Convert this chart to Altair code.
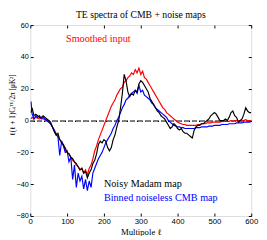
import altair as alt
import pandas as pd

# Multipole grid
ell = [2] + list(range(5, 601, 5))

# Smoothed input (red)
red = [1,
       2, 1, 2, 1.5, 1, 1.5, 1, 0.5, 0, -1,
       -2, -4, -6, -8, -10, -12, -13, -16, -17, -20,
       -21, -23, -25, -26, -28, -29, -31, -30, -33, -31,
       -34, -30, -28, -24, -19, -16, -12, -9, -6, -3,
       0, 3, 6, 9, 11, 13, 16, 18, 20, 21,
       24, 25, 27, 28, 30, 29, 32, 30, 33, 29,
       31, 27, 26, 24, 22, 20, 18, 16, 14, 12,
       10, 8, 7, 5, 4, 3, 2, 1, 0, -1,
       -1.5, -2, -2.5, -2.5, -3, -3, -3, -3, -3, -3,
       -2.5, -2.5, -2, -2, -2, -1.5, -1.5, -1.5, -1, -1,
       -1, -1, -1, -0.5, -0.5, -0.5, -0.5, -0.5, 0, -0.5,
       0, 0, -0.5, 0, 0, 0, 0.5, 0, 0, 0]

# Binned noiseless CMB map (blue)
blue = [12,
        4, 1, 3, 2, 3, 1, 2, 1, 0, -1,
        -2, -4, -6, -9, -10, -22, -13, -16, -20, -19,
        -26, -23, -37, -28, -42, -33, -38, -35, -43, -37,
        -44, -38, -42, -33, -30, -27, -24, -22, -20, -17,
        -14, -12, -10, -8, -5, -3, 0, 2, 5, 8,
        10, 13, 14, 16, 17, 18, 19, 17, 22, 18,
        19, 16, 15, 14, 13, 11, 10, 8, 7, 6,
        5, 4, 3, 2, 0, -1, -2, -3, -3.5, -4,
        -4, -4.5, -4.5, -5, -5, -5, -5, -5, -5, -4.5,
        -4.5, -4.5, -4, -4, -4, -4, -3.5, -3.5, -3.5, -3,
        -3, -3, -3, -2.5, -2.5, -2.5, -2.5, -2, -2, -2,
        -2, -1.5, -1.5, -1.5, -1.5, -1, -1, -1, -1, -0.5]

# Noisy Madam map (black)
black = [5,
         8, 3, 4, 3, 2, 2, 3, 2, 1, 0,
         -1, -4, -7, -9, -8, -12, -14, -15, -18, -20,
         -21, -23, -24, -26, -27, -29, -31, -30, -33, -32,
         -36, -33, -31, -27, -25, -21, -15, -13, -14, -12,
         -13, -17, -19, -17, -12, -9, -4, 0, 8, 17,
         29, 25, 18, 15, 17, 16, 19, 18, 23, 25,
         24, 22, 20, 18, 14, 12, 10, 8, 6, 5,
         3, 2, 1, -1, -3, -5, -4, -2, -3, -5,
         -6, -5, -7, -8, -8, -9, -10, -11, -6, -4,
         -3, -3, -2, -2, -1, 0, 1, 3, 4, 5,
         4, 2, 0, 0, 0, 1, 0, 2, 5, 6,
         3, 2, -1, 0, 1, 4, 8, 6, 5, 5]

series_names = ["Smoothed input", "Binned noiseless CMB map", "Noisy Madam map"]
series_colors = ["#ff0000", "#0000ff", "#000000"]

x_ticks = [0, 100, 200, 300, 400, 500, 600]
y_ticks = [-60, -40, -20, 0, 20, 40, 60]
y_tick_labels = ["\u221280", "\u221240", "\u221220", "0", "20", "40", "60"]

df = pd.DataFrame({"ell": ell * 3,
                   "cl": red + blue + black,
                   "series": sum([[n] * len(ell) for n in series_names], [])})

label_expr = "''"
for v, lab in zip(y_ticks, y_tick_labels):
    label_expr = f"datum.value == {v} ? '{lab}' : ({label_expr})"

xscale = alt.Scale(domain=[0, 600], nice=False, zero=False)
yscale = alt.Scale(domain=[-60, 60], nice=False, zero=False)

tick_font = "Liberation Sans"
serif = "Liberation Serif"

x_bottom = alt.Axis(orient="bottom", values=x_ticks, format="d", tickSize=3, offset=-3,
                    domain=False, grid=False, labelPadding=2, labelFont=tick_font,
                    labelFontSize=8, labelColor="black", tickColor="black", labelFlush=False,
                    title="Multipole \u2113", titleFont=serif, titleFontSize=9,
                    titleFontWeight="normal", titleColor="black", titlePadding=2)
y_left = alt.Axis(orient="left", values=y_ticks, labelExpr=label_expr, tickSize=3, offset=-3,
                  domain=False, grid=False, labelPadding=2, labelFont=tick_font,
                  labelFontSize=7.5, labelColor="black", tickColor="black",
                  title="\u2113(\u2113 + 1)C\u2097\u1d40\u1d31/2\u03c0  [\u03bcK\u00b2]",
                  titleFont=serif, titleFontSize=7.5, titleFontWeight="normal",
                  titleColor="black", titleX=-17, titleY=82)
x_top = alt.Axis(orient="top", values=x_ticks, tickSize=3, offset=-3, domain=False, grid=False,
                 labels=False, title=None, tickColor="black")
y_right = alt.Axis(orient="right", values=y_ticks, tickSize=3, offset=-3, domain=False, grid=False,
                   labels=False, title=None, tickColor="black")

base = alt.Chart(df)

zero_line = base.mark_rule(strokeDash=[5, 3], color="#808080", strokeWidth=1).encode(
    y=alt.YDatum(0, axis=None)
)

layers = []
for i, (name, col) in enumerate(zip(series_names, series_colors)):
    if i == 0:
        ax_x, ax_y = x_bottom, y_left
    elif i == 1:
        ax_x, ax_y = x_top, y_right
    else:
        ax_x, ax_y = None, None
    layers.append(
        base.transform_filter(alt.datum.series == name).mark_line(
            color=col, strokeWidth=1.2, clip=True
        ).encode(
            x=alt.X("ell:Q", scale=xscale, axis=ax_x),
            y=alt.Y("cl:Q", scale=yscale, axis=ax_y),
        )
    )

def note(text, x, y, col):
    return alt.Chart().mark_text(align="left", baseline="middle", font=serif,
                                 fontSize=10.5, color=col).encode(
        x=alt.XDatum(x, axis=None), y=alt.YDatum(y, axis=None), text=alt.value(text))

notes = [note(series_names[0], 97, 51.5, series_colors[0]),
         note(series_names[2], 200, -40, series_colors[2]),
         note(series_names[1], 200, -49, series_colors[1])]

chart = alt.layer(zero_line, *layers, *notes).resolve_axis(
    x="independent", y="independent"
).properties(
    width=228, height=197,
    padding={"left": 23, "top": 14, "right": 8, "bottom": 17},
    autosize=alt.AutoSizeParams(type="none"),
    title=alt.TitleParams("TE spectra of CMB + noise maps", font=serif, fontSize=10,
                          fontWeight="normal", color="black", offset=1, anchor="middle"),
).configure_view(stroke="black", strokeWidth=1).configure(background="white")

chart.save("out.html", embed_options={"renderer": "svg", "actions": False})
